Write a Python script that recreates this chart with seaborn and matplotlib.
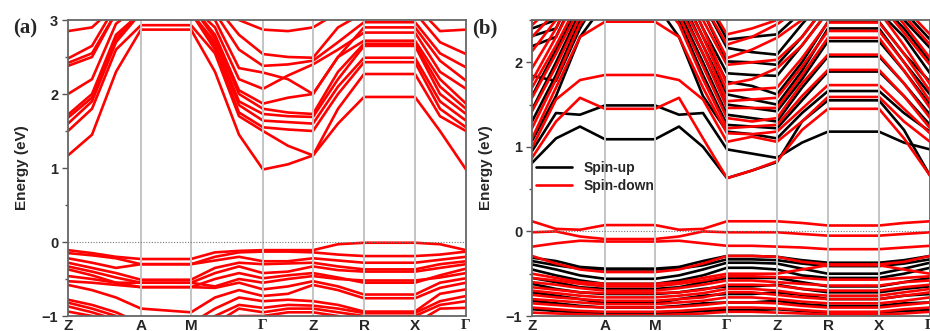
import pandas as pd
import seaborn as sns
import matplotlib.pyplot as plt
from matplotlib.ticker import MultipleLocator

# k-path sample points (path length units) and high-symmetry points
kpath = [0, 24, 48, 73, 123, 147, 171, 195, 220, 245, 270, 296, 347, 372, 398]
sym_pos = [0, 73, 123, 195, 245, 296, 347, 398]
sym_labels = ['Z', 'A', 'M', 'Γ', 'Z', 'R', 'X', 'Γ']

# panel (a): bands read at each kpath point (eV)
a_cond = [
    [1.17, 1.45, 2.3, 2.87, 2.87, 2.3, 1.45, 0.98, 1.05, 1.17, 1.6, 1.96, 1.96, 1.5, 0.98],
    [1.5, 1.8, 2.6, 2.93, 2.93, 2.55, 1.7, 1.5, 1.3, 1.17, 1.8, 2.27, 2.27, 1.7, 1.5],
    [1.6, 1.9, 2.7, 3.1, 3.1, 2.6, 1.75, 1.55, 1.52, 1.5, 2.0, 2.43, 2.43, 1.8, 1.55],
    [1.68, 1.95, 2.75, 3.1, 3.1, 2.65, 1.85, 1.64, 1.62, 1.6, 2.1, 2.49, 2.49, 1.9, 1.64],
    [1.72, 2.0, 2.8, 3.1, 3.1, 2.7, 1.9, 1.73, 1.7, 1.69, 2.2, 2.65, 2.65, 2.0, 1.73],
    [2.0, 2.2, 2.95, 3.2, 3.2, 2.75, 2.0, 1.8, 1.75, 1.73, 2.3, 2.68, 2.68, 2.1, 1.8],
    [2.38, 2.5, 3.1, 3.2, 3.2, 2.8, 2.05, 1.87, 1.95, 2.0, 2.5, 2.72, 2.72, 2.2, 1.87],
    [2.42, 2.55, 3.1, 3.2, 3.2, 2.9, 2.2, 2.07, 2.25, 2.4, 2.6, 2.83, 2.83, 2.3, 2.07],
    [2.48, 2.65, 3.2, 3.2, 3.2, 3.0, 2.35, 2.29, 2.2, 2.0, 2.5, 2.9, 2.9, 2.45, 2.18],
    [2.85, 2.9, 3.2, 3.2, 3.2, 3.1, 2.6, 2.38, 2.4, 2.45, 2.7, 2.97, 2.97, 2.55, 2.36],
    [3.1, 3.2, 3.3, 3.2, 3.2, 3.2, 2.8, 2.54, 2.5, 2.49, 2.9, 3.1, 3.1, 2.7, 2.54],
    [3.2, 3.3, 3.3, 3.3, 3.3, 3.3, 3.0, 2.87, 2.85, 2.9, 3.1, 3.2, 3.2, 2.85, 2.87],
]
a_val = [
    [-0.11, -0.15, -0.2, -0.23, -0.23, -0.14, -0.12, -0.11, -0.11, -0.11, -0.03, -0.01, -0.01, -0.03, -0.11],
    [-0.15, -0.18, -0.22, -0.3, -0.3, -0.2, -0.14, -0.13, -0.13, -0.14, -0.17, -0.19, -0.19, -0.17, -0.13],
    [-0.22, -0.28, -0.35, -0.3, -0.3, -0.25, -0.2, -0.26, -0.26, -0.22, -0.25, -0.28, -0.28, -0.24, -0.2],
    [-0.28, -0.35, -0.42, -0.51, -0.51, -0.35, -0.28, -0.3, -0.29, -0.28, -0.33, -0.37, -0.37, -0.3, -0.26],
    [-0.33, -0.4, -0.48, -0.55, -0.55, -0.42, -0.33, -0.42, -0.4, -0.33, -0.38, -0.4, -0.4, -0.35, -0.3],
    [-0.37, -0.45, -0.55, -0.61, -0.61, -0.5, -0.42, -0.49, -0.45, -0.42, -0.48, -0.55, -0.55, -0.45, -0.36],
    [-0.46, -0.5, -0.55, -0.55, -0.55, -0.6, -0.5, -0.55, -0.5, -0.46, -0.5, -0.52, -0.52, -0.48, -0.42],
    [-0.53, -0.55, -0.58, -0.61, -0.61, -0.62, -0.55, -0.64, -0.6, -0.53, -0.6, -0.71, -0.71, -0.55, -0.49],
    [-0.58, -0.65, -0.75, -0.9, -0.95, -0.75, -0.65, -0.73, -0.7, -0.58, -0.65, -0.76, -0.76, -0.62, -0.55],
    [-0.78, -0.85, -0.95, -1.1, -1.1, -0.9, -0.75, -0.8, -0.78, -0.8, -0.85, -0.94, -0.94, -0.7, -0.64],
    [-0.82, -0.9, -1.0, -1.2, -1.2, -1.0, -0.85, -0.89, -0.85, -0.86, -0.9, -0.96, -0.96, -0.8, -0.73],
    [-0.87, -0.95, -1.05, -1.2, -1.2, -1.1, -0.9, -0.95, -0.9, -0.9, -0.95, -1.0, -1.0, -0.85, -0.8],
    [-0.94, -1.0, -1.1, -1.3, -1.3, -1.2, -1.0, -1.0, -0.95, -0.95, -1.0, -1.1, -1.1, -0.9, -0.89],
]

# panel (b): spin-up (black) bands
b_up = [
    [0.81, 1.1, 1.24, 1.09, 1.09, 1.24, 1.0, 0.63, 0.72, 0.82, 1.3, 1.55, 1.55, 1.2, 0.66],
    [0.95, 1.4, 1.38, 1.49, 1.49, 1.38, 1.4, 0.97, 0.92, 0.87, 1.05, 1.18, 1.18, 1.05, 0.97],
    [1.07, 1.6, 2.3, 2.7, 2.7, 2.3, 1.6, 1.18, 1.15, 1.1, 1.4, 1.66, 1.66, 1.4, 1.18],
    [1.3, 1.85, 2.5, 2.8, 2.8, 2.5, 1.85, 1.26, 1.24, 1.22, 1.55, 1.89, 1.89, 1.6, 1.26],
    [1.44, 2.0, 2.6, 2.8, 2.8, 2.6, 2.0, 1.38, 1.34, 1.3, 1.7, 2.07, 2.07, 1.75, 1.38],
    [1.6, 2.15, 2.7, 2.9, 2.9, 2.7, 2.1, 1.5, 1.46, 1.42, 1.8, 2.25, 2.25, 1.9, 1.5],
    [1.84, 1.78, 2.4, 2.9, 2.9, 2.8, 2.2, 1.62, 1.56, 1.5, 1.9, 2.4, 2.4, 2.0, 1.62],
    [2.19, 2.3, 2.9, 3.0, 3.0, 2.9, 2.3, 1.77, 1.72, 1.62, 2.0, 2.48, 2.48, 2.1, 1.77],
    [2.31, 2.4, 3.0, 3.0, 3.0, 3.0, 2.4, 1.87, 1.85, 1.84, 2.2, 2.6, 2.6, 2.3, 1.87],
    [2.4, 2.5, 3.0, 3.0, 3.0, 3.0, 2.6, 2.01, 2.0, 1.97, 2.3, 2.7, 2.7, 2.4, 2.01],
    [2.5, 2.6, 3.0, 3.0, 3.0, 3.0, 2.7, 2.17, 2.12, 2.09, 2.45, 2.8, 2.8, 2.5, 2.17],
    [2.6, 2.7, 3.0, 3.0, 3.0, 3.0, 2.8, 2.27, 2.3, 2.33, 2.6, 2.9, 2.9, 2.6, 2.27],
    [-0.31, -0.35, -0.42, -0.44, -0.44, -0.42, -0.35, -0.29, -0.29, -0.3, -0.34, -0.37, -0.37, -0.34, -0.29],
    [-0.35, -0.4, -0.44, -0.45, -0.45, -0.44, -0.4, -0.33, -0.33, -0.34, -0.38, -0.41, -0.41, -0.38, -0.33],
    [-0.39, -0.45, -0.52, -0.56, -0.56, -0.52, -0.45, -0.37, -0.37, -0.38, -0.44, -0.5, -0.5, -0.44, -0.37],
    [-0.45, -0.52, -0.58, -0.62, -0.62, -0.58, -0.52, -0.43, -0.43, -0.45, -0.52, -0.55, -0.55, -0.5, -0.43],
    [-0.55, -0.6, -0.66, -0.68, -0.68, -0.66, -0.6, -0.55, -0.55, -0.55, -0.6, -0.65, -0.65, -0.6, -0.55],
    [-0.62, -0.68, -0.72, -0.74, -0.74, -0.72, -0.68, -0.65, -0.65, -0.63, -0.68, -0.72, -0.72, -0.68, -0.65],
    [-0.72, -0.76, -0.8, -0.85, -0.85, -0.8, -0.76, -0.74, -0.74, -0.72, -0.75, -0.8, -0.8, -0.76, -0.74],
    [-0.82, -0.85, -0.88, -0.9, -0.9, -0.88, -0.85, -0.84, -0.84, -0.82, -0.86, -0.88, -0.88, -0.85, -0.84],
    [-0.92, -0.94, -0.96, -0.96, -0.96, -0.96, -0.94, -0.93, -0.93, -0.92, -0.94, -0.96, -0.96, -0.94, -0.93],
]

# panel (b): spin-down (red) bands
b_down = [
    [0.87, 1.3, 1.58, 1.45, 1.45, 1.58, 1.1, 0.63, 0.72, 0.83, 1.2, 1.45, 1.45, 1.1, 0.66],
    [0.99, 1.56, 1.79, 1.85, 1.85, 1.79, 1.56, 1.06, 1.12, 1.06, 1.3, 1.59, 1.59, 1.3, 1.06],
    [1.1, 1.7, 2.3, 2.48, 2.48, 2.3, 1.7, 1.16, 1.15, 1.18, 1.45, 1.73, 1.73, 1.45, 1.16],
    [1.22, 1.8, 2.45, 2.8, 2.8, 2.45, 1.8, 1.22, 1.24, 1.26, 1.6, 1.91, 1.91, 1.6, 1.22],
    [1.42, 1.95, 2.55, 2.9, 2.9, 2.55, 1.95, 1.34, 1.3, 1.34, 1.75, 2.09, 2.09, 1.75, 1.34],
    [1.58, 2.1, 2.65, 3.0, 3.0, 2.65, 2.1, 1.46, 1.46, 1.46, 1.85, 2.29, 2.29, 1.9, 1.46],
    [1.7, 2.2, 2.75, 3.0, 3.0, 2.75, 2.2, 1.54, 1.56, 1.58, 1.95, 2.37, 2.37, 2.0, 1.54],
    [1.78, 2.3, 2.85, 3.0, 3.0, 2.85, 2.3, 1.66, 1.68, 1.7, 2.05, 2.47, 2.47, 2.1, 1.66],
    [1.93, 2.4, 3.0, 3.0, 3.0, 3.0, 2.4, 1.74, 1.8, 1.93, 2.2, 2.6, 2.6, 2.2, 1.74],
    [2.13, 2.5, 3.0, 3.0, 3.0, 3.0, 2.5, 1.97, 2.0, 2.03, 2.3, 2.7, 2.7, 2.35, 1.97],
    [2.3, 2.6, 3.0, 3.0, 3.0, 3.0, 2.6, 2.05, 2.15, 2.29, 2.5, 2.8, 2.8, 2.45, 2.05],
    [2.44, 2.7, 3.0, 3.0, 3.0, 3.0, 2.7, 2.21, 2.3, 2.45, 2.65, 2.9, 2.9, 2.55, 2.21],
    [2.55, 2.8, 3.0, 3.0, 3.0, 3.0, 2.8, 2.33, 2.4, 2.5, 2.75, 3.0, 3.0, 2.65, 2.33],
    [0.12, 0.03, 0.02, 0.075, 0.075, 0.02, 0.03, 0.12, 0.12, 0.12, 0.1, 0.07, 0.07, 0.1, 0.12],
    [-0.01, 0.0, -0.06, -0.09, -0.09, -0.06, 0.0, -0.01, -0.01, -0.01, -0.03, -0.05, -0.05, -0.03, -0.01],
    [-0.18, -0.14, -0.11, -0.12, -0.12, -0.11, -0.14, -0.17, -0.17, -0.18, -0.19, -0.21, -0.21, -0.19, -0.17],
    [-0.29, -0.38, -0.45, -0.48, -0.48, -0.45, -0.38, -0.29, -0.29, -0.3, -0.36, -0.39, -0.39, -0.36, -0.29],
    [-0.5, -0.55, -0.6, -0.62, -0.62, -0.6, -0.55, -0.5, -0.5, -0.5, -0.45, -0.4, -0.4, -0.45, -0.5],
    [-0.55, -0.58, -0.62, -0.65, -0.65, -0.62, -0.58, -0.53, -0.53, -0.54, -0.55, -0.57, -0.57, -0.55, -0.53],
    [-0.6, -0.63, -0.67, -0.7, -0.7, -0.67, -0.63, -0.58, -0.58, -0.6, -0.62, -0.64, -0.64, -0.6, -0.58],
    [-0.66, -0.69, -0.72, -0.73, -0.73, -0.72, -0.69, -0.63, -0.63, -0.64, -0.68, -0.7, -0.7, -0.66, -0.63],
    [-0.7, -0.73, -0.76, -0.78, -0.78, -0.76, -0.73, -0.68, -0.68, -0.7, -0.74, -0.76, -0.76, -0.72, -0.68],
    [-0.75, -0.78, -0.8, -0.82, -0.82, -0.8, -0.78, -0.72, -0.72, -0.75, -0.78, -0.8, -0.8, -0.76, -0.72],
    [-0.8, -0.82, -0.84, -0.86, -0.86, -0.84, -0.82, -0.78, -0.78, -0.8, -0.83, -0.85, -0.85, -0.82, -0.78],
    [-0.85, -0.87, -0.89, -0.9, -0.9, -0.89, -0.87, -0.84, -0.84, -0.85, -0.88, -0.9, -0.9, -0.87, -0.84],
    [-0.9, -0.92, -0.94, -0.95, -0.95, -0.94, -0.92, -0.9, -0.9, -0.91, -0.93, -0.95, -0.95, -0.92, -0.9],
    [-0.96, -0.97, -0.98, -0.99, -0.99, -0.98, -0.97, -0.95, -0.95, -0.96, -0.97, -0.98, -0.98, -0.97, -0.95],
]


def to_long(bands, spin):
    rows = []
    for i, band in enumerate(bands):
        for k, e in zip(kpath, band):
            rows.append({'k': k, 'E': e, 'band': spin + str(i), 'spin': spin})
    return pd.DataFrame(rows)


df_a = to_long(a_cond + a_val, 'Spin-down')
df_b = pd.concat([to_long(b_up, 'Spin-up'), to_long(b_down, 'Spin-down')], ignore_index=True)

sns.set_style('ticks')
plt.rcParams['font.family'] = ['Liberation Sans', 'DejaVu Sans']
plt.rcParams['font.weight'] = 'bold'

fig = plt.figure(figsize=(9.3, 3.31), dpi=100)
ax1 = fig.add_axes([68 / 930, 15 / 331, 398 / 930, 296 / 331])
ax2 = fig.add_axes([532 / 930, 15 / 331, 398 / 930, 296 / 331])

sns.lineplot(data=df_a, x='k', y='E', units='band', estimator=None, color='red',
             lw=1.9, ax=ax1, legend=False)
sns.lineplot(data=df_b, x='k', y='E', units='band', estimator=None, hue='spin',
             hue_order=['Spin-up', 'Spin-down'],
             palette={'Spin-up': 'black', 'Spin-down': 'red'}, lw=1.9, ax=ax2)

for ax, ylim in [(ax1, (-1, 3)), (ax2, (-1, 2.5))]:
    ax.set_xlim(0, 398)
    ax.set_ylim(*ylim)
    for p in sym_pos[1:-1]:
        ax.axvline(p, color='#c4c4c4', lw=1.4, zorder=5)
    ax.axhline(0, color='#777777', lw=0.8, ls=(0, (1, 1.5)), zorder=5)
    ax.yaxis.set_major_locator(MultipleLocator(1))
    ax.yaxis.set_minor_locator(MultipleLocator(0.5))
    ax.set_xticks(sym_pos)
    ax.set_xticklabels(sym_labels)
    for lab in ax.get_xticklabels():
        if lab.get_text() == 'Γ':
            lab.set_fontfamily('Liberation Serif')
    ax.tick_params(axis='x', length=0, pad=2, labelsize=11)
    ax.tick_params(axis='y', which='major', direction='out', length=4, width=1,
                   color='#555555', labelsize=10.5, pad=3)
    ax.tick_params(axis='y', which='minor', direction='out', length=2.5, width=1,
                   color='#555555')
    for s in ax.spines.values():
        s.set_color('#666666')
        s.set_linewidth(1.3)
        s.set_zorder(6)
    ax.set_xlabel('')
    ax.set_ylabel('Energy (eV)', fontsize=11, fontweight='bold', labelpad=9)

sns.move_legend(ax2, 'center left', bbox_to_anchor=(-0.01, 0.47), frameon=False,
                title=None, fontsize=10, handlelength=2.6, labelspacing=0.3,
                borderaxespad=0.2)

fig.text(13 / 930, 1 - 33 / 331, '(a)', fontfamily='Liberation Serif',
         fontweight='bold', fontsize=15)
fig.text(472 / 930, 1 - 33 / 331, '(b)', fontfamily='Liberation Serif',
         fontweight='bold', fontsize=15)

fig.savefig('out.png', dpi=100)
